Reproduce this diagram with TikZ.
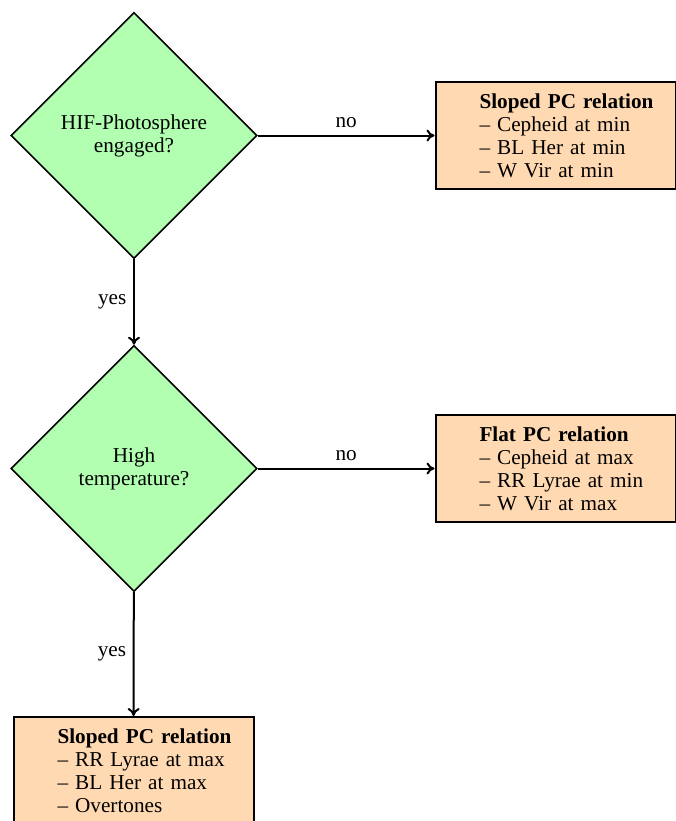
\documentclass[tikz,border=0pt]{standalone}
\usepackage{fontspec}
\setmainfont{Liberation Serif}
\usetikzlibrary{shapes.geometric,arrows.meta}

\begin{document}
\begin{tikzpicture}[x=0.5pt,y=-0.5pt,font=\fontsize{10.6}{11.5}\selectfont,
  decision/.style={diamond,draw,thick,fill=green!30,aspect=1,inner sep=0pt,
    minimum width=123pt,minimum height=123pt,align=center},
  result/.style={rectangle,draw,line width=1pt,fill=orange!30,text width=120pt,inner xsep=0pt,
    minimum height=53.5pt,align=left,execute at begin node={\leftskip=22pt\relax}},
  flow/.style={-{To[length=4pt,width=6pt]},line width=1pt}]
  \useasboundingbox (0,0) rectangle (676,821);
  \node[decision] (hif) at (134,135.5) {HIF-Photosphere\\engaged?};
  \node[decision] (temp) at (134,468.5) {High\\temperature?};
  \node[result] (slopedA) at (555.5,135.5) {\textbf{Sloped PC relation}\\-- Cepheid at min\\-- BL Her at min\\-- W Vir at min};
  \node[result] (flat) at (555.5,468.5) {\textbf{Flat PC relation}\\-- Cepheid at max\\-- RR Lyrae at min\\-- W Vir at max};
  \node[result] (slopedB) at (133.5,770.5) {\textbf{Sloped PC relation}\\-- RR Lyrae at max\\-- BL Her at max\\-- Overtones};
  \draw[flow] (hif) -- node[above] {no} (slopedA);
  \draw[flow] (hif) -- node[left] {yes} (temp);
  \draw[flow] (temp) -- node[above] {no} (flat);
  \draw[flow] (temp) -- node[left] {yes} (slopedB);
\end{tikzpicture}
\end{document}
